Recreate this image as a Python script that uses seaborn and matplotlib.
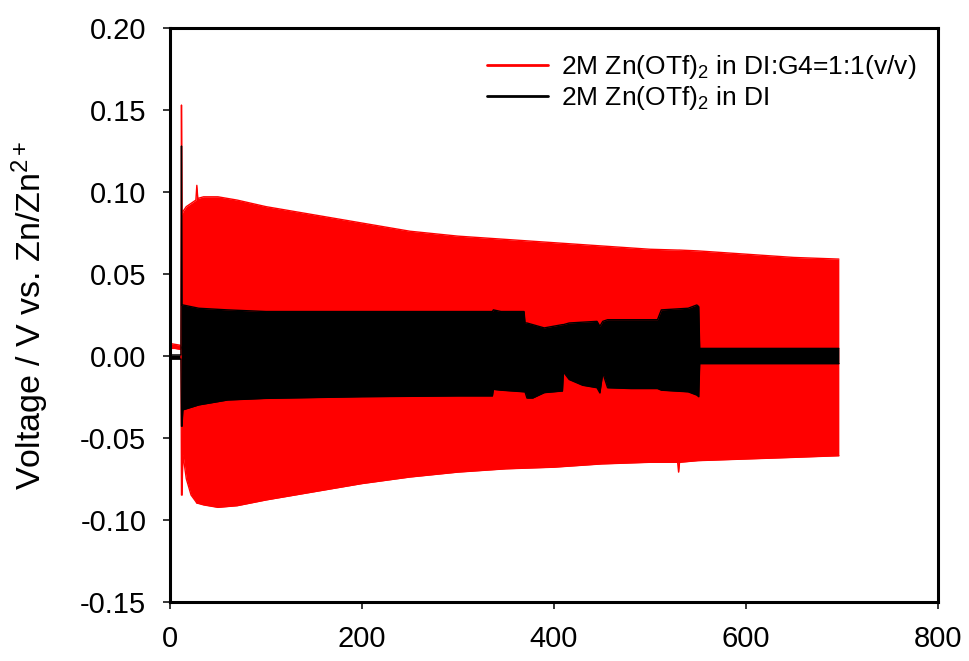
import numpy as np
import pandas as pd
import matplotlib
matplotlib.use("Agg")
import matplotlib.pyplot as plt
from matplotlib.lines import Line2D
import seaborn as sns

# envelope of the red trace (DI:G4 = 1:1)
red_x = [0, 5, 10, 11.5, 12, 12.5, 13.5, 17, 22, 27, 28, 29, 35, 50, 70, 100, 150,
         200, 250, 300, 350, 400, 450, 500, 529, 530, 531, 550, 600, 650, 697]
red_upper = [0.0075, 0.007, 0.0065, 0.006, 0.153, 0.086, 0.088, 0.091, 0.093, 0.095, 0.104, 0.096,
             0.097, 0.097, 0.095, 0.091, 0.086, 0.081, 0.076, 0.073, 0.071, 0.069,
             0.067, 0.065, 0.0645, 0.0645, 0.0645, 0.064, 0.062, 0.060, 0.059]
red_lower = [0.0045, 0.0045, 0.004, 0.004, -0.085, -0.085, -0.060, -0.075, -0.085, -0.089, -0.090, -0.090,
             -0.091, -0.0925, -0.0915, -0.088, -0.083, -0.078, -0.074, -0.071, -0.069, -0.068,
             -0.066, -0.065, -0.065, -0.071, -0.065, -0.064, -0.063, -0.062, -0.061]

# envelope of the black trace (DI only)
black_x = [0, 5, 11.5, 12, 12.5, 13.5, 30, 60, 100, 200, 300, 336, 337, 345, 369, 370,
           372, 378, 390, 409, 410, 416, 430, 445, 448, 451, 456, 480, 508, 512, 540, 549,
           551, 552, 600, 697]
black_upper = [0.0005, 0.0005, 0.0005, 0.128, 0.031, 0.031, 0.029, 0.028, 0.027, 0.027, 0.027,
               0.027, 0.028, 0.027, 0.027, 0.020, 0.020, 0.019, 0.017, 0.019, 0.019,
               0.020, 0.0205, 0.021, 0.018, 0.021, 0.022, 0.022, 0.022, 0.028, 0.029, 0.031,
               0.030, 0.0045, 0.0045, 0.0045]
black_lower = [-0.002, -0.002, -0.002, -0.043, -0.043, -0.033, -0.030, -0.027, -0.026, -0.025, -0.0245,
               -0.0245, -0.0205, -0.021, -0.022, -0.022, -0.0258, -0.0258, -0.0225, -0.0215, -0.0099,
               -0.0145, -0.018, -0.0195, -0.0227, -0.0105, -0.0195, -0.020, -0.020, -0.021, -0.022, -0.024,
               -0.025, -0.0048, -0.0048, -0.0048]

labels = ["2M Zn(OTf)$_2$ in DI:G4=1:1(v/v)", "2M Zn(OTf)$_2$ in DI"]
colors = ["#ff0000", "#000000"]
x_ticks = [0, 200, 400, 600, 800]
y_ticks = [-0.15, -0.10, -0.05, 0.00, 0.05, 0.10, 0.15, 0.20]

sns.set_style("ticks")
plt.rcParams["font.family"] = ["Liberation Sans", "DejaVu Sans"]
plt.rcParams["mathtext.fontset"] = "custom"
plt.rcParams["mathtext.rm"] = "Liberation Sans"
plt.rcParams["mathtext.it"] = "Liberation Sans:italic"
plt.rcParams["text.color"] = "black"
plt.rcParams["axes.labelcolor"] = "black"

fig = plt.figure(figsize=(9.69, 6.61), dpi=100)
ax = fig.add_axes([0.1754, 0.0899, 0.7923, 0.8677])

series = [(red_x, red_upper, red_lower, colors[0]),
          (black_x, black_upper, black_lower, colors[1])]
for xs, up, lo, c in series:
    df = pd.DataFrame({"x": xs, "up": up, "lo": lo})
    ax.fill_between(df["x"], df["lo"], df["up"], color=c, linewidth=0)
    sns.lineplot(data=df, x="x", y="up", ax=ax, color=c, lw=1, estimator=None, sort=False)
    sns.lineplot(data=df, x="x", y="lo", ax=ax, color=c, lw=1, estimator=None, sort=False)

ax.set_xlim(0, 800)
ax.set_ylim(-0.15, 0.20)
ax.set_xticks(x_ticks)
ax.set_yticks(y_ticks)
ax.set_yticklabels([f"{v:.2f}" for v in y_ticks])
ax.set_xlabel("")
ax.set_ylabel("Voltage / V vs. Zn/Zn$^{2+}$", fontsize=24.5)
ax.yaxis.set_label_coords(-0.155, 0.5)

for s in ax.spines.values():
    s.set_linewidth(2.2)
    s.set_color("black")
ax.tick_params(axis="both", direction="out", length=5, width=1.1, labelsize=21, pad=12,
               color="black", labelcolor="black")

handles = [Line2D([], [], color=c, lw=2) for c in colors]
ax.legend(handles, labels, loc="upper left", bbox_to_anchor=(0.413, 0.956), frameon=False,
          fontsize=19, handlelength=2.3, handletextpad=0.5, labelspacing=0.1,
          borderpad=0, borderaxespad=0)

fig.savefig("out.png", dpi=100)
